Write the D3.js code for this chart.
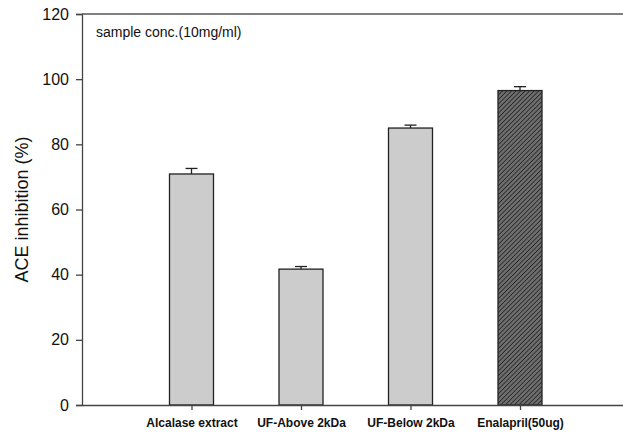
<!DOCTYPE html>
<html>
<head>
<meta charset="utf-8">
<script src="https://cdn.jsdelivr.net/npm/d3@7"></script>
<style>
  body { margin: 0; background: #fff; }
  svg { display: block; font-family: Arial, "Liberation Sans", sans-serif; }
</style>
</head>
<body>
<div id="chart"></div>
<script>
const categories = ["Alcalase extract", "UF-Above 2kDa", "UF-Below 2kDa", "Enalapril(50ug)"];
const values = [70.9, 41.7, 85.0, 96.5];
const errors = [1.7, 0.8, 0.9, 1.2];
const yTicks = [0, 20, 40, 60, 80, 100, 120];

const width = 623, height = 432;
const plotLeft = 82, plotTop = 14, plotBottom = 405;

const svg = d3.select("#chart").append("svg")
  .attr("width", width)
  .attr("height", height);

// hatch for the reference drug bar
const defs = svg.append("defs");
const pat = defs.append("pattern")
  .attr("id", "hatch")
  .attr("patternUnits", "userSpaceOnUse")
  .attr("width", 3.2).attr("height", 3.2)
  .attr("patternTransform", "rotate(45)");
pat.append("rect").attr("width", 3.2).attr("height", 3.2).attr("fill", "#6e6e6e");
pat.append("line").attr("x1", 0).attr("y1", 0).attr("x2", 0).attr("y2", 3.2)
  .attr("stroke", "#111").attr("stroke-width", 1.3);

const x = d3.scaleLinear().domain([0, 5]).range([plotLeft, 629.5]);
const y = d3.scaleLinear().domain([0, 120]).range([plotBottom, plotTop]);
const barW = 44;

// bars
svg.selectAll("rect.bar")
  .data(values)
  .enter().append("rect")
  .attr("class", "bar")
  .attr("x", (d, i) => x(i + 1) - barW / 2)
  .attr("y", d => y(d))
  .attr("width", barW)
  .attr("height", d => y(0) - y(d))
  .attr("fill", (d, i) => i === 3 ? "url(#hatch)" : "#cccccc")
  .attr("stroke", "#222")
  .attr("stroke-width", 1.3);

// error bars (upper only)
const eb = svg.append("g").attr("stroke", "#222").attr("stroke-width", 1.3);
values.forEach((v, i) => {
  const cx = x(i + 1);
  eb.append("line").attr("x1", cx).attr("x2", cx).attr("y1", y(v)).attr("y2", y(v + errors[i]));
  eb.append("line").attr("x1", cx - 6).attr("x2", cx + 6).attr("y1", y(v + errors[i])).attr("y2", y(v + errors[i]));
});

// y axis
const yAxis = svg.append("g")
  .attr("transform", `translate(${plotLeft},0)`)
  .call(d3.axisLeft(y).tickValues(yTicks).tickSize(6).tickPadding(7));
yAxis.select(".domain").attr("stroke", "#444").attr("stroke-width", 1.3);
yAxis.selectAll(".tick line").attr("stroke", "#444").attr("stroke-width", 1.3);
yAxis.selectAll(".tick text").attr("font-size", 16).attr("fill", "#111")
  .attr("font-family", "Arial, 'Liberation Sans', sans-serif");

// x axis
const xAxis = svg.append("g")
  .attr("transform", `translate(0,${plotBottom})`)
  .call(d3.axisBottom(x).tickValues([1, 2, 3, 4]).tickFormat((d) => categories[d - 1]).tickSize(5).tickPadding(8)
    .tickSizeOuter(0));
xAxis.select(".domain").attr("stroke", "#444").attr("stroke-width", 1.3);
xAxis.selectAll(".tick line").attr("stroke", "#444").attr("stroke-width", 1.3);
xAxis.selectAll(".tick text").attr("font-size", 12).attr("font-weight", "bold").attr("fill", "#111")
  .attr("font-family", "Arial, 'Liberation Sans', sans-serif");

// top frame line
svg.append("line")
  .attr("x1", plotLeft).attr("x2", width)
  .attr("y1", y(120)).attr("y2", y(120))
  .attr("stroke", "#555").attr("stroke-width", 1.3);

// y title
svg.append("text")
  .attr("transform", `translate(28,${(plotTop + plotBottom) / 2}) rotate(-90)`)
  .attr("text-anchor", "middle")
  .attr("font-size", 18)
  .attr("fill", "#111")
  .text("ACE inhibition (%)");

// annotation
svg.append("text")
  .attr("x", 96).attr("y", 37)
  .attr("font-size", 14)
  .attr("fill", "#111")
  .text("sample conc.(10mg/ml)");
</script>
</body>
</html>
